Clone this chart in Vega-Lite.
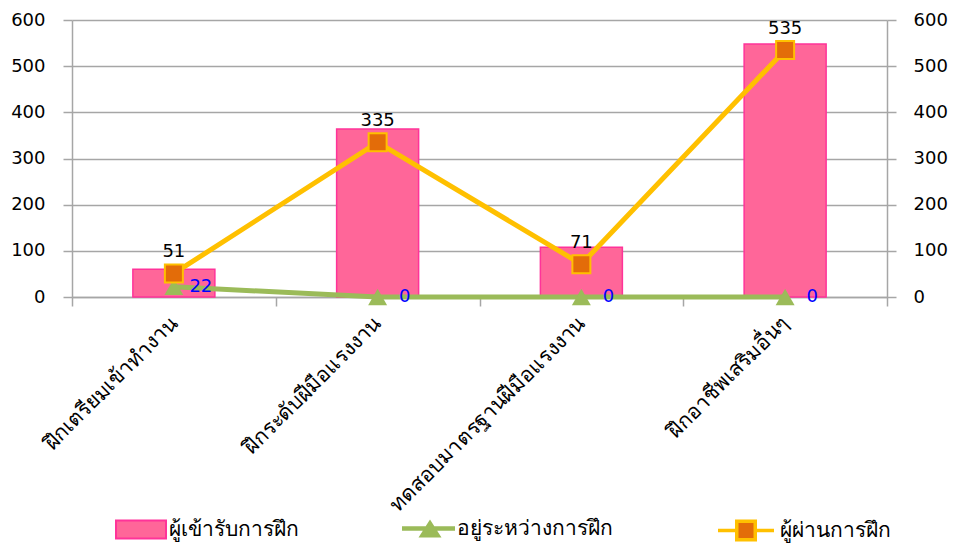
{
  "$schema": "https://vega.github.io/schema/vega-lite/v6.json",
  "width": 815,
  "height": 277,
  "autosize": "none",
  "padding": {"left": 72, "top": 20, "right": 67, "bottom": 247},
  "config": {
    "font": "DejaVu Sans",
    "view": {"stroke": null},
    "axis": {"labelFont": "DejaVu Sans", "labelColor": "#000000"},
    "legend": {"labelFont": "DejaVu Sans", "labelFontSize": 21, "labelColor": "#000000", "labelLimit": 300, "symbolSize": 625, "orient": "none", "title": null}
  },
  "data": {
    "values": [
      {"cat": "ฝึกเตรียมเข้าทำงาน", "series": "ผู้เข้ารับการฝึก", "value": 60},
      {"cat": "ฝึกระดับฝีมือแรงงาน", "series": "ผู้เข้ารับการฝึก", "value": 364},
      {"cat": "ทดสอบมาตรฐานฝีมือแรงงาน", "series": "ผู้เข้ารับการฝึก", "value": 108},
      {"cat": "ฝึกอาชีพเสริมอื่นๆ", "series": "ผู้เข้ารับการฝึก", "value": 548},
      {"cat": "ฝึกเตรียมเข้าทำงาน", "series": "อยู่ระหว่างการฝึก", "value": 22},
      {"cat": "ฝึกระดับฝีมือแรงงาน", "series": "อยู่ระหว่างการฝึก", "value": 0},
      {"cat": "ทดสอบมาตรฐานฝีมือแรงงาน", "series": "อยู่ระหว่างการฝึก", "value": 0},
      {"cat": "ฝึกอาชีพเสริมอื่นๆ", "series": "อยู่ระหว่างการฝึก", "value": 0},
      {"cat": "ฝึกเตรียมเข้าทำงาน", "series": "ผู้ผ่านการฝึก", "value": 51},
      {"cat": "ฝึกระดับฝีมือแรงงาน", "series": "ผู้ผ่านการฝึก", "value": 335},
      {"cat": "ทดสอบมาตรฐานฝีมือแรงงาน", "series": "ผู้ผ่านการฝึก", "value": 71},
      {"cat": "ฝึกอาชีพเสริมอื่นๆ", "series": "ผู้ผ่านการฝึก", "value": 535}
    ]
  },
  "encoding": {
    "x": {
      "field": "cat",
      "type": "nominal",
      "sort": null,
      "scale": {"paddingInner": 0, "paddingOuter": 0},
      "axis": {
        "title": null,
        "labelAngle": -45,
        "labelAlign": "right",
        "labelBaseline": "middle",
        "labelFontSize": 21,
        "labelPadding": 14,
        "tickBand": "extent",
        "tickColor": "#A6A6A6",
        "tickWidth": 1.5,
        "tickSize": 9,
        "domainColor": "#A6A6A6",
        "domainWidth": 1.5,
        "labelLimit": 400,
        "grid": false
      }
    },
    "y": {
      "field": "value",
      "type": "quantitative",
      "scale": {"domain": [0, 600]},
      "axis": null
    }
  },
  "layer": [
    {
      "transform": [{"filter": "datum.series === 'ผู้เข้ารับการฝึก'"}],
      "mark": {"type": "bar", "width": 82, "stroke": "#FF3399", "strokeWidth": 1.5},
      "encoding": {
        "y": {
          "field": "value",
          "type": "quantitative",
          "scale": {"domain": [0, 600]},
          "axis": {
            "title": null,
            "orient": "left",
            "values": [0, 100, 200, 300, 400, 500, 600],
            "grid": true,
            "gridColor": "#A6A6A6",
            "gridWidth": 1.5,
            "domainColor": "#A6A6A6",
            "domainWidth": 1.5,
            "tickColor": "#A6A6A6",
            "tickWidth": 1.5,
            "tickSize": 9,
            "labelFontSize": 18,
            "labelPadding": 18
          }
        },
        "fill": {
          "field": "series",
          "type": "nominal",
          "scale": {"domain": ["ผู้เข้ารับการฝึก"], "range": ["#FF6699"]},
          "legend": {
            "legendX": 55.5,
            "legendY": 496,
            "symbolType": "M-2,-0.72H2V0.72H-2Z",
            "symbolStrokeColor": "#FF3399",
            "symbolStrokeWidth": 2,
            "symbolOpacity": 1,
            "labelOffset": 14.5
          }
        }
      }
    },
    {
      "transform": [{"filter": "datum.series === 'อยู่ระหว่างการฝึก'"}],
      "mark": {"type": "line", "color": "#9BBB59", "strokeWidth": 5}
    },
    {
      "transform": [{"filter": "datum.series === 'อยู่ระหว่างการฝึก'"}],
      "mark": {"type": "point", "shape": "triangle-up", "filled": true, "size": 360, "opacity": 1, "strokeWidth": 0},
      "encoding": {
        "fill": {
          "field": "series",
          "type": "nominal",
          "scale": {"domain": ["อยู่ระหว่างการฝึก"], "range": ["#9BBB59"]},
          "legend": {
            "legendX": 345.5,
            "legendY": 496,
            "symbolType": "M-2.24,-0.18H2V0.18H-2.24Z M-0.92,0.72L0,-0.72L0.92,0.72Z",
            "symbolStrokeWidth": 0,
            "symbolOpacity": 1,
            "labelOffset": 14.5
          }
        }
      }
    },
    {
      "transform": [{"filter": "datum.series === 'ผู้ผ่านการฝึก'"}],
      "mark": {"type": "line", "color": "#FFC000", "strokeWidth": 5},
      "encoding": {
        "y": {
          "field": "value",
          "type": "quantitative",
          "scale": {"domain": [0, 600]},
          "axis": {
            "title": null,
            "orient": "right",
            "values": [0, 100, 200, 300, 400, 500, 600],
            "grid": false,
            "domainColor": "#A6A6A6",
            "domainWidth": 1.5,
            "tickColor": "#A6A6A6",
            "tickWidth": 1.5,
            "tickSize": 9,
            "labelFontSize": 18,
            "labelPadding": 17
          }
        }
      }
    },
    {
      "transform": [{"filter": "datum.series === 'ผู้ผ่านการฝึก'"}],
      "mark": {"type": "point", "shape": "square", "filled": true, "stroke": "#FFC000", "strokeWidth": 2, "size": 324, "opacity": 1},
      "encoding": {
        "fill": {
          "field": "series",
          "type": "nominal",
          "scale": {"domain": ["ผู้ผ่านการฝึก"], "range": ["#E36C09"]},
          "legend": {
            "legendX": 659.5,
            "legendY": 496,
            "symbolType": "M-2.24,0H-0.74M0.74,0H2.24M-0.74,-0.74H0.74V0.74H-0.74Z",
            "symbolStrokeColor": "#FFC000",
            "symbolStrokeWidth": 3.5,
            "symbolOpacity": 1,
            "labelOffset": 19.5
          }
        }
      }
    },
    {
      "transform": [{"filter": "datum.series === 'ผู้ผ่านการฝึก'"}],
      "mark": {"type": "text", "dy": -21, "fontSize": 18, "color": "#000000"},
      "encoding": {"text": {"field": "value", "type": "quantitative"}}
    },
    {
      "transform": [{"filter": "datum.series === 'อยู่ระหว่างการฝึก'"}],
      "mark": {"type": "text", "align": "center", "dx": 27, "dy": 0, "fontSize": 18, "color": "#0000FF"},
      "encoding": {"text": {"field": "value", "type": "quantitative"}}
    }
  ],
  "resolve": {
    "axis": {"y": "independent"},
    "scale": {"fill": "independent"},
    "legend": {"fill": "independent"}
  }
}
